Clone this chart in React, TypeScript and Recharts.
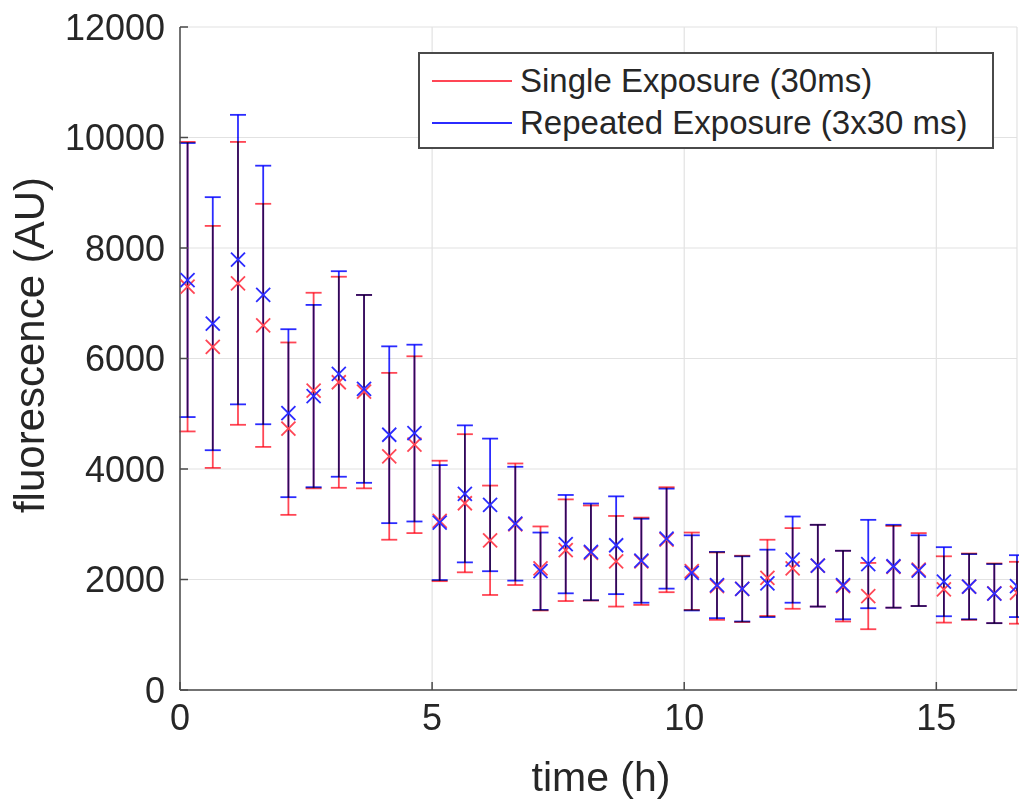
import { ScatterChart, Scatter, XAxis, YAxis, CartesianGrid, ErrorBar, Legend } from "recharts";

// sampling times (h)
const TIMES = [
  0.15, 0.65, 1.15, 1.65, 2.15, 2.65, 3.15, 3.65, 4.15, 4.65, 5.15, 5.65, 6.15, 6.65, 7.15, 7.65, 8.15,
  8.65, 9.15, 9.65, 10.15, 10.65, 11.15, 11.65, 12.15, 12.65, 13.15, 13.65, 14.15, 14.65, 15.15, 15.65,
  16.15, 16.6,
];

// Single Exposure (30ms)
const SINGLE_MEAN = [
  7300, 6210, 7360, 6600, 4730, 5420, 5570, 5400, 4230, 4440, 3060, 3380, 2710, 3000, 2200, 2530, 2480,
  2330, 2330, 2720, 2150, 1880, 1830, 2030, 2200, 2250, 1880, 1700, 2230, 2180, 1820, 1870, 1750, 1760,
];
const SINGLE_ERR = [
  2620, 2190, 2560, 2200, 1560, 1770, 1910, 1750, 1510, 1600, 1090, 1250, 990, 1100, 760, 920, 860,
  820, 790, 950, 700, 610, 600, 690, 730, 740, 640, 600, 740, 660, 600, 600, 540, 560,
];

// Repeated Exposure (3x30 ms)
const REPEAT_MEAN = [
  7420, 6630, 7790, 7150, 5010, 5320, 5720, 5450, 4620, 4650, 3030, 3550, 3350, 3010, 2150, 2640, 2500,
  2620, 2340, 2740, 2120, 1900, 1830, 1930, 2360, 2250, 1900, 2280, 2240, 2160, 1960, 1870, 1745, 1880,
];
const REPEAT_ERR = [
  2480, 2290, 2620, 2340, 1520, 1650, 1860, 1700, 1600, 1600, 1040, 1240, 1200, 1030, 700, 890, 875,
  885, 760, 905, 680, 600, 590, 610, 780, 740, 620, 800, 750, 640, 625, 590, 535, 560,
];

const SERIES_NAMES = ["Single Exposure (30ms)", "Repeated Exposure (3x30 ms)"];
const X_TICKS = [0, 5, 10, 15];
const Y_TICKS = [0, 2000, 4000, 6000, 8000, 10000, 12000];

const RED = "#ff4655";
const BLUE = "#2b2bff";
const AXIS = "#4a4a4a";
const FONT = "'Liberation Sans', Arial, sans-serif";

const single = TIMES.map((t, i) => ({ t, v: SINGLE_MEAN[i], e: SINGLE_ERR[i] }));
const repeated = TIMES.map((t, i) => ({ t, v: REPEAT_MEAN[i], e: REPEAT_ERR[i] }));

const xMarker = (color: string) => (props: any) => {
  const { cx, cy } = props;
  const s = 7;
  return (
    <g style={{ mixBlendMode: "multiply" }}>
      <line x1={cx - s} y1={cy - s} x2={cx + s} y2={cy + s} stroke={color} strokeWidth={1.8} />
      <line x1={cx - s} y1={cy + s} x2={cx + s} y2={cy - s} stroke={color} strokeWidth={1.8} />
    </g>
  );
};

const renderLegend = (props: any) => {
  const items = [...(props.payload || [])].sort(
    (a: any, b: any) => SERIES_NAMES.indexOf(a.value) - SERIES_NAMES.indexOf(b.value)
  );
  return (
    <div
      style={{
        boxSizing: "border-box",
        width: 576,
        height: 97,
        border: `2px solid ${AXIS}`,
        background: "#fff",
        padding: "6px 0 0 12px",
        fontFamily: FONT,
        fontSize: 33,
        color: "#262626",
      }}
    >
      {items.map((p: any) => (
        <div key={p.value} style={{ display: "flex", alignItems: "center", height: 42, whiteSpace: "nowrap" }}>
          <span style={{ display: "inline-block", width: 80, borderTop: `2px solid ${p.color}`, marginRight: 8 }} />
          <span>{p.value}</span>
        </div>
      ))}
    </div>
  );
};

export default function App() {
  return (
    <div style={{ position: "absolute", left: 0, top: 0, background: "#fff" }}>
      <style>{`.recharts-errorBar line { mix-blend-mode: multiply; }`}</style>
      <ScatterChart
        width={1019}
        height={803}
        margin={{ top: 27, right: 2, bottom: 0, left: 0 }}
        style={{ fontFamily: FONT }}
      >
        <CartesianGrid stroke="#e2e2e2" strokeWidth={1.2} />
        <XAxis
          type="number"
          dataKey="t"
          domain={[0, 16.6]}
          ticks={X_TICKS}
          allowDataOverflow
          height={113}
          stroke={AXIS}
          strokeWidth={1.5}
          tickSize={-8}
          tickMargin={22}
          tick={{ fill: "#262626", fontSize: 36 }}
          label={{
            content: () => (
              <text x={601} y={791} textAnchor="middle" fontSize={41} fill="#262626" fontFamily={FONT}>
                time (h)
              </text>
            ),
          }}
        />
        <XAxis
          xAxisId="top"
          orientation="top"
          type="number"
          domain={[0, 16.6]}
          ticks={X_TICKS}
          height={0}
          stroke={AXIS}
          strokeWidth={1.5}
          tickSize={-8}
          tick={false}
        />
        <YAxis
          type="number"
          dataKey="v"
          domain={[0, 12000]}
          ticks={Y_TICKS}
          allowDataOverflow
          width={180}
          stroke={AXIS}
          strokeWidth={1.5}
          tickSize={-8}
          tickMargin={23}
          tick={{ fill: "#262626", fontSize: 36 }}
          label={{
            content: () => (
              <text
                x={44}
                y={345}
                textAnchor="middle"
                fontSize={42}
                fill="#262626"
                fontFamily={FONT}
                transform="rotate(-90 44 345)"
              >
                fluorescence (AU)
              </text>
            ),
          }}
        />
        <YAxis
          yAxisId="right"
          orientation="right"
          type="number"
          domain={[0, 12000]}
          ticks={Y_TICKS}
          width={0}
          stroke={AXIS}
          strokeWidth={1.5}
          tickSize={-8}
          tick={false}
        />
        <Legend
          layout="vertical"
          align="center"
          verticalAlign="middle"
          content={renderLegend}
          wrapperStyle={{ left: 418, top: 52, width: 576, height: 97 }}
        />
        <Scatter
          name={SERIES_NAMES[0]}
          data={single}
          fill={RED}
          shape={xMarker(RED)}
          isAnimationActive={false}
        >
          <ErrorBar dataKey="e" direction="y" width={8} stroke={RED} strokeWidth={1.8} isAnimationActive={false} />
        </Scatter>
        <Scatter
          name={SERIES_NAMES[1]}
          data={repeated}
          fill={BLUE}
          shape={xMarker(BLUE)}
          isAnimationActive={false}
        >
          <ErrorBar dataKey="e" direction="y" width={8} stroke={BLUE} strokeWidth={1.8} isAnimationActive={false} />
        </Scatter>
      </ScatterChart>
    </div>
  );
}
